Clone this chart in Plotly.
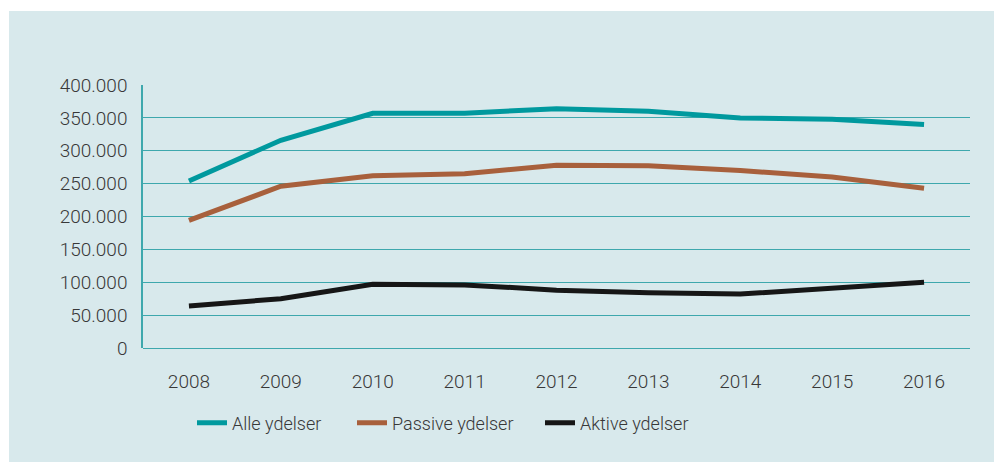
import plotly.graph_objects as go

years = ["2008", "2009", "2010", "2011", "2012", "2013", "2014", "2015", "2016"]
alle = [254000, 316000, 357000, 357000, 364000, 360000, 350000, 348000, 340000]
passive = [194000, 246000, 262000, 265000, 278000, 277000, 270000, 260000, 243000]
aktive = [64000, 75000, 97000, 96000, 88000, 84000, 82000, 91000, 100000]

names = ["Alle ydelser", "Passive ydelser", "Aktive ydelser"]
colors = ["#00999e", "#a8603c", "#161616"]
series = [alle, passive, aktive]

BG = "#d8e9ec"
GRID = "#3ea8ad"
TXT = "#383838"
FONT = "Roboto"
FW = 300

OFF = 8  # page body margin
W, H = 1002, 462
# plot area in page pixels: x 143..970, y 85..348
L, R, T, B = 143 - OFF, 970 - OFF, 85 - OFF, 348 - OFF
pw, ph = R - L, B - T
def px(x):
    return (x - OFF - L) / pw
def py(y):
    return (B - (y - OFF)) / ph

legend_ids = ["legend", "legend2", "legend3"]
text_starts = [232, 392, 580]

fig = go.Figure()
for n, c, s, lid in zip(names, colors, series, legend_ids):
    fig.add_trace(go.Scatter(x=years, y=s, name=n, mode="lines",
                             line=dict(color=c, width=5), legend=lid))

fig.add_shape(type="rect", xref="paper", yref="paper",
              x0=px(9), x1=px(W + 20), y0=py(11), y1=py(H + 20),
              fillcolor=BG, line=dict(width=0), layer="below")

legend_layout = {}
for lid, ts in zip(legend_ids, text_starts):
    legend_layout[lid] = dict(orientation="h", x=px(ts - 40), xanchor="left",
                              y=py(423), yanchor="middle",
                              font=dict(family=FONT, size=18, color=TXT, weight=FW),
                              bgcolor="rgba(0,0,0,0)")

fig.update_layout(
    width=W, height=H,
    margin=dict(l=L, r=W - R, t=T, b=H - B),
    paper_bgcolor="white",
    plot_bgcolor="rgba(0,0,0,0)",
    separators=",.",
    font=dict(family=FONT, size=18, color=TXT, weight=FW),
    showlegend=True,
    xaxis=dict(type="category", range=[-0.5, 8.5], showgrid=False,
               zeroline=False, showline=False, ticks="",
               ticklabelstandoff=20,
               tickfont=dict(family=FONT, size=19, color=TXT, weight=FW)),
    yaxis=dict(range=[0, 400000], dtick=50000, tickformat=",d",
               showgrid=True, gridcolor=GRID, gridwidth=1.3,
               zeroline=True, zerolinecolor=GRID, zerolinewidth=1.3,
               showline=True, linecolor=GRID, linewidth=1.5,
               ticks="", ticklabelstandoff=10,
               tickfont=dict(family=FONT, size=19, color=TXT, weight=FW)),
    **legend_layout,
)

fig.write_html("out.html")
